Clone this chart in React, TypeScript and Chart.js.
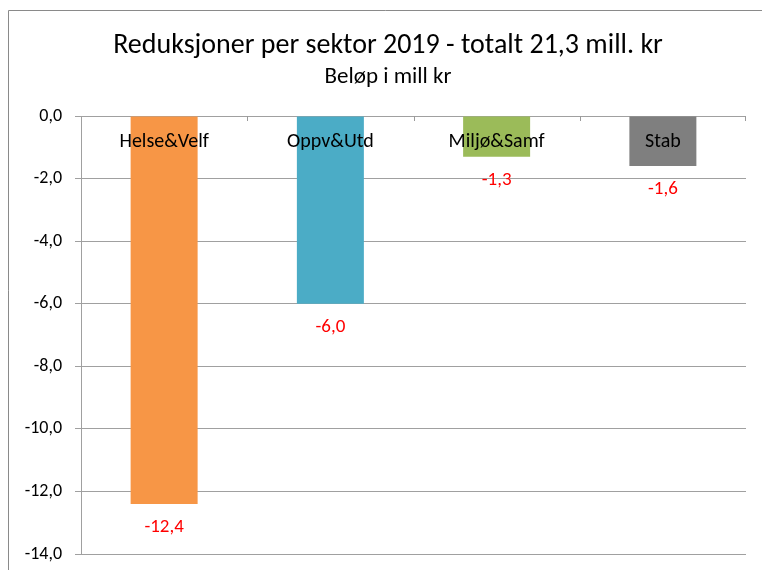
import React, { useEffect, useRef } from "react";
import { Chart, registerables } from "chart.js";

Chart.register(...registerables);

const categories = ["Helse&Velf", "Oppv&Utd", "Miljø&Samf", "Stab"];
const values = [-12.4, -6.0, -1.3, -1.6];
const barColors = ["#F79646", "#4BACC6", "#9BBB59", "#7F7F7F"];
const yMin = -14;
const yMax = 0;
const yStep = 2;
const titleText = "Reduksjoner per sektor 2019 - totalt 21,3 mill. kr";
const subtitleText = "Beløp i mill kr";

const FONT = "Carlito, Calibri, 'Liberation Sans', Arial, sans-serif";
const fmt = (v: number) => v.toFixed(1).replace(".", ",");

const decoPlugin = {
  id: "deco",
  beforeDraw(chart: any) {
    const ctx = chart.ctx;
    ctx.save();
    ctx.fillStyle = "#ffffff";
    ctx.fillRect(0, 0, chart.width, chart.height);
    ctx.strokeStyle = "#8a8a8a";
    ctx.lineWidth = 1;
    ctx.beginPath();
    ctx.moveTo(8.5, chart.height);
    ctx.lineTo(8.5, 10.5);
    ctx.lineTo(chart.width, 10.5);
    ctx.stroke();
    ctx.fillStyle = "#000";
    ctx.textAlign = "center";
    ctx.textBaseline = "alphabetic";
    ctx.font = `28px ${FONT}`;
    ctx.fillText(titleText, 388, 53);
    ctx.font = `23px ${FONT}`;
    ctx.fillText(subtitleText, 388, 83);
    ctx.restore();
  },
  afterDatasetsDraw(chart: any) {
    const ctx = chart.ctx;
    const xs = chart.scales.x;
    const ys = chart.scales.y;
    const zeroY = ys.getPixelForValue(0);
    ctx.save();
    ctx.strokeStyle = "#9a9a9a";
    ctx.lineWidth = 1;
    ctx.beginPath();
    for (let i = 1; i < categories.length; i++) {
      const x = Math.round((xs.getPixelForValue(i - 1) + xs.getPixelForValue(i)) / 2) + 0.5;
      ctx.moveTo(x, zeroY);
      ctx.lineTo(x, zeroY + 5);
    }
    const xr = Math.round(chart.chartArea.right) - 0.5;
    ctx.moveTo(xr, zeroY);
    ctx.lineTo(xr, zeroY + 5);
    ctx.stroke();

    const meta = chart.getDatasetMeta(0);
    ctx.textAlign = "center";
    ctx.textBaseline = "alphabetic";
    meta.data.forEach((bar: any, i: number) => {
      ctx.font = `20px ${FONT}`;
      ctx.fillStyle = "#000";
      ctx.fillText(categories[i], bar.x, zeroY + 31);
      ctx.font = `19px ${FONT}`;
      ctx.fillStyle = "#FF0000";
      ctx.fillText(fmt(values[i]), bar.x, bar.y + 28);
    });
    ctx.restore();
  },
};

export default function App() {
  const ref = useRef<HTMLCanvasElement>(null);
  useEffect(() => {
    if (!ref.current) return;
    const chart = new Chart(ref.current, {
      type: "bar",
      data: {
        labels: categories,
        datasets: [
          {
            data: values,
            backgroundColor: barColors,
            borderWidth: 0,
            categoryPercentage: 1,
            barPercentage: 0.403,
          },
        ],
      },
      options: {
        responsive: false,
        animation: false,
        devicePixelRatio: 1,
        layout: { padding: { top: 116, right: 16, bottom: 16, left: 0 } },
        plugins: {
          legend: { display: false },
          tooltip: { enabled: false },
          title: { display: false },
        },
        scales: {
          x: {
            display: false,
          },
          y: {
            min: yMin,
            max: yMax,
            ticks: {
              stepSize: yStep,
              padding: 13,
              color: "#000",
              font: { size: 18, family: FONT },
              callback: (v: any) => fmt(Number(v)),
            },
            grid: {
              color: "#a0a0a0",
              lineWidth: 1,
              tickLength: 6,
              drawTicks: true,
            },
            border: { display: true, color: "#a0a0a0" },
            afterFit: (scale: any) => {
              scale.width = 81;
              scale.paddingTop = 0;
              scale.paddingBottom = 0;
            },
          },
        },
      },
      plugins: [decoPlugin],
    });
    return () => chart.destroy();
  }, []);
  return (
    <div style={{ position: "absolute", left: 0, top: 0, width: 762, height: 570 }}>
      <canvas ref={ref} width={762} height={570} style={{ display: "block" }} />
    </div>
  );
}
